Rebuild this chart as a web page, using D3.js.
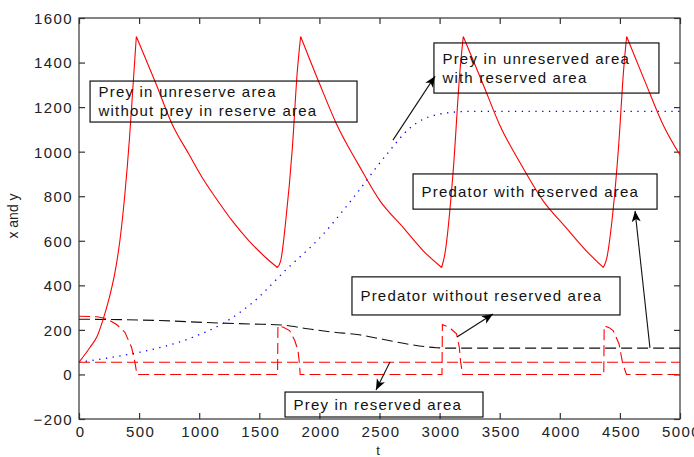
<!DOCTYPE html>
<html>
<head>
<meta charset="utf-8">
<script src="https://cdn.jsdelivr.net/npm/d3@7"></script>
<style>
  html, body { margin: 0; padding: 0; background: #fff; }
  svg { display: block; font-family: "Liberation Sans", Arial, sans-serif; }
</style>
</head>
<body>
<svg id="chart" width="694" height="457"></svg>
<script>
// ---- Data ----
const xTicks = [0, 500, 1000, 1500, 2000, 2500, 3000, 3500, 4000, 4500, 5000];
const yTicks = [-200, 0, 200, 400, 600, 800, 1000, 1200, 1400, 1600];

// Prey in unreserved area without prey in reserve area (red solid) [t, value]
const preyNoReserve = [[0,55],[91,121],[150,170],[200,246],[250,340],[300,460],[340,600],[380,800],[420,1060],[450,1300],[477,1517],
  [638,1308],[776,1122],[915,988],[1026,883],[1137,793],[1275,689],[1414,600],[1553,525],[1650,480],
  [1678,510],[1720,689],[1775,1017],[1816,1360],[1844,1517],
  [2005,1300],[2144,1122],[2324,943],[2504,779],[2698,659],[2864,555],[3017,480],
  [3044,541],[3113,913],[3169,1360],[3197,1517],
  [3360,1305],[3500,1120],[3680,940],[3860,780],[4050,660],[4220,555],[4362,480],
  [4390,520],[4440,720],[4490,1030],[4530,1360],[4556,1517],
  [4720,1300],[4860,1120],[5000,985]];

// Prey in unreserved area with reserved area (blue dotted)
const preyWithReserve = [[0,55],[250,75],[507,100],[947,167],[1200,230],[1437,319],[1728,473],
  [2005,614],[2282,793],[2560,988],[2753,1106],[2975,1166],[3252,1181],[5000,1181]];

// Predator with reserved area (black dashed)
const predatorWithReserve = [[0,248],[670,242],[1110,232],[1450,226],[1680,222],[1900,205],[2110,190],
  [2330,178],[2525,158],[2750,135],[2973,120],[3100,118],[5000,118]];

// Prey in reserved area (red dashed, constant)
const preyInReserve = [[0,55],[5000,55]];

// Predator without reserved area (red dashed, spiky)
const predatorNoReserve = [[0,261],[150,259],[230,250],[313,224],[382,189],[437,122],[465,55],[482,0],
  [1652,0],[1655,219],[1700,212],[1752,197],[1795,152],[1822,107],[1833,55],[1840,0],
  [3020,0],[3023,224],[3060,216],[3095,204],[3141,182],[3164,122],[3175,55],[3192,0],
  [4366,0],[4369,219],[4410,210],[4444,197],[4493,137],[4521,55],[4548,10],[4555,0],[5000,0]];

// Annotation texts; boxes in data units [t0, t1, v_top, v_bottom]
const labelTexts = [
  ["Prey in unreserve area", "without prey in reserve area"],
  ["Prey in unreserved area", "with reserved area"],
  ["Predator with reserved area"],
  ["Predator without reserved area"],
  ["Prey in reserved area"]
];
const labelBoxes = [
  [92, 2313, 1317, 1133],
  [2953, 4825, 1488, 1263],
  [2779, 4809, 900, 742],
  [2271, 4501, 438, 267],
  [1714, 3361, -79, -191]
];
// arrows [t_from, v_from, t_to, v_to]
const arrows = [
  [2612, 1052, 2962, 1339],
  [4750, 119, 4626, 734],
  [3145, 168, 3444, 271],
  [2587, 56, 2471, -70]
];

// ---- Drawing ----
const svg = d3.select("#chart");
const L = 79, R = 680, T = 18, B = 419;
const x = d3.scaleLinear().domain([0, 5000]).range([L, R]);
const y = d3.scaleLinear().domain([-200, 1600]).range([B, T]);

svg.append("rect").attr("x", L).attr("y", T).attr("width", R - L).attr("height", B - T)
  .attr("fill", "none").attr("stroke", "#333").attr("stroke-width", 1.2);

function styleAxis(g) {
  g.select(".domain").remove();
  g.selectAll(".tick line").attr("stroke", "#333").attr("stroke-width", 1.2);
  g.selectAll(".tick text").attr("fill", "#222").style("font-size", "15px")
    .style("letter-spacing", "1.4px");
}

svg.append("g").attr("transform", `translate(0,${B})`)
  .call(d3.axisBottom(x).tickValues(xTicks).tickSizeInner(-6).tickSizeOuter(0).tickPadding(7)
    .tickFormat(d3.format("d")))
  .call(styleAxis)
  .call(g => g.selectAll(".tick text").attr("dx", "1px"));
svg.append("g").attr("transform", `translate(0,${T})`)
  .call(d3.axisTop(x).tickValues(xTicks).tickSizeInner(-6).tickSizeOuter(0).tickFormat(""))
  .call(styleAxis);
svg.append("g").attr("transform", `translate(${L},0)`)
  .call(d3.axisLeft(y).tickValues(yTicks).tickSizeInner(-6).tickSizeOuter(0).tickPadding(6)
    .tickFormat(d3.format("d")))
  .call(styleAxis)
  .call(g => g.selectAll(".tick text").attr("dy", "0.36em"));
svg.append("g").attr("transform", `translate(${R},0)`)
  .call(d3.axisRight(y).tickValues(yTicks).tickSizeInner(-6).tickSizeOuter(0).tickFormat(""))
  .call(styleAxis);

svg.append("text").attr("x", 378).attr("y", 455).attr("text-anchor", "middle")
  .attr("fill", "#222").style("font-size", "13px").text("t");
svg.append("text").attr("transform", "translate(18,216) rotate(-90)").attr("text-anchor", "middle")
  .attr("fill", "#222").style("font-size", "14px").text("x and y");

const line = d3.line().x(d => x(d[0])).y(d => y(d[1]));
const smooth = d3.line().x(d => x(d[0])).y(d => y(d[1])).curve(d3.curveMonotoneX);

// split a series into monotone runs so peaks/troughs stay sharp while runs are smooth
function monotoneRuns(data) {
  const runs = [];
  let cur = [data[0]], dir = 0;
  for (let i = 1; i < data.length; i++) {
    const d = Math.sign(data[i][1] - data[i - 1][1]);
    if (dir !== 0 && d !== 0 && d !== dir) {
      runs.push(cur);
      cur = [data[i - 1]];
    }
    if (d !== 0) dir = d;
    cur.push(data[i]);
  }
  runs.push(cur);
  return runs;
}

const plot = svg.append("g");
plot.append("path").datum(preyInReserve).attr("d", line)
  .attr("fill", "none").attr("stroke", "#ff0000").attr("stroke-width", 1.1).attr("stroke-dasharray", "11,5");
plot.append("path").datum(predatorNoReserve).attr("d", line)
  .attr("fill", "none").attr("stroke", "#ff0000").attr("stroke-width", 1.1).attr("stroke-dasharray", "11,5");
plot.append("path").datum(predatorWithReserve).attr("d", smooth)
  .attr("fill", "none").attr("stroke", "#111").attr("stroke-width", 1.1).attr("stroke-dasharray", "11,5");
plot.append("path").datum(preyWithReserve).attr("d", smooth)
  .attr("fill", "none").attr("stroke", "#0000ff").attr("stroke-width", 1.3).attr("stroke-dasharray", "1.3,5.5");
plot.append("path")
  .attr("d", monotoneRuns(preyNoReserve).map(r => smooth(r)).join(""))
  .attr("fill", "none").attr("stroke", "#ff0000").attr("stroke-width", 1.1).attr("stroke-linejoin", "miter");

const ann = svg.append("g");
labelBoxes.forEach((b, i) => {
  const x0 = x(b[0]), x1 = x(b[1]), y0 = y(b[2]), y1 = y(b[3]);
  ann.append("rect").attr("x", x0).attr("y", y0).attr("width", x1 - x0).attr("height", y1 - y0)
    .attr("fill", "none").attr("stroke", "#111").attr("stroke-width", 1.2);
  const lines = labelTexts[i];
  const cy = (y0 + y1) / 2;
  lines.forEach((t, j) => {
    ann.append("text").attr("x", x0 + 8.5).attr("y", cy + (j - (lines.length - 1) / 2) * 19 + 5.4)
      .attr("fill", "#111").style("font-size", "15px").style("letter-spacing", "1.2px").text(t);
  });
});

svg.append("defs").append("marker").attr("id", "ah")
  .attr("viewBox", "-12 -6 14 12").attr("refX", 0).attr("refY", 0)
  .attr("markerWidth", 14).attr("markerHeight", 12).attr("markerUnits", "userSpaceOnUse")
  .attr("orient", "auto")
  .append("path").attr("d", "M0,0 L-11,-4.5 L-8,0 L-11,4.5 Z").attr("fill", "#000");
arrows.forEach(a => {
  ann.append("line").attr("x1", x(a[0])).attr("y1", y(a[1])).attr("x2", x(a[2])).attr("y2", y(a[3]))
    .attr("stroke", "#111").attr("stroke-width", 1.1).attr("marker-end", "url(#ah)");
});
</script>
</body>
</html>
